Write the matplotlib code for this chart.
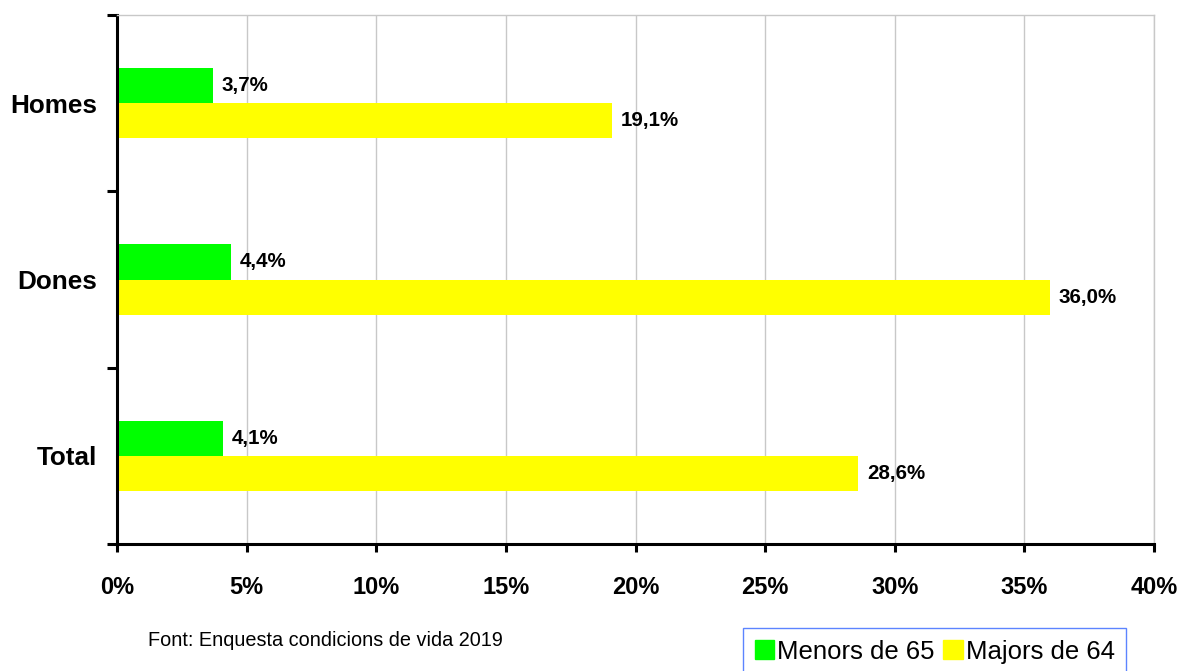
import matplotlib.pyplot as plt
from matplotlib.patches import Patch

plt.rcParams['font.family'] = ['Liberation Sans', 'DejaVu Sans']

categories = ['Total', 'Dones', 'Homes']
menors = [4.1, 4.4, 3.7]
majors = [28.6, 36.0, 19.1]
xticks = [0, 5, 10, 15, 20, 25, 30, 35, 40]

green = '#00ff00'
yellow = '#ffff00'

fig = plt.figure(figsize=(11.83, 6.71), dpi=100)
ax = fig.add_axes([0.0989, 0.1893, 0.8766, 0.7883])

centers = [i + 0.5 for i in range(len(categories))]
h = 0.2
ax.barh([c + h / 2 for c in centers], menors, height=h, color=green)
ax.barh([c - h / 2 for c in centers], majors, height=h, color=yellow)

for c, v in zip(centers, menors):
    ax.text(v + 0.33, c + h / 2, f'{v:.1f}%'.replace('.', ','), va='center', ha='left',
            fontsize=14.8, fontweight='bold')
for c, v in zip(centers, majors):
    ax.text(v + 0.33, c - h / 2, f'{v:.1f}%'.replace('.', ','), va='center', ha='left',
            fontsize=14.8, fontweight='bold')

ax.set_xlim(0, 40)
ax.set_ylim(0, 3)
ax.set_xticks(xticks)
ax.set_xticklabels([f'{t}%' for t in xticks], fontsize=17, fontweight='bold')
ax.tick_params(axis='x', direction='out', length=6, width=2.2, pad=17)

ax.set_yticks([0, 1, 2, 3])
ax.set_yticklabels([])
ax.set_yticks(centers, minor=True)
ax.set_yticklabels(categories, minor=True, fontsize=18.8, fontweight='bold')
ax.tick_params(axis='y', which='major', direction='out', length=7, width=2.2)
ax.tick_params(axis='y', which='minor', length=0, pad=14)

ax.grid(axis='x', color='#c8c8c8', linewidth=1)
ax.set_axisbelow(True)
for s in ['left', 'bottom']:
    ax.spines[s].set_linewidth(2.2)
for s in ['top', 'right']:
    ax.spines[s].set_color('#c8c8c8')
    ax.spines[s].set_linewidth(1)

fig.text(148 / 1183, 1 - 641 / 671, 'Font: Enquesta condicions de vida 2019',
         fontsize=14.3, va='center', ha='left')

handles = [Patch(color=green), Patch(color=yellow)]
leg = fig.legend(handles, ['Menors de 65', 'Majors de 64'], ncol=2,
                 loc='upper left', bbox_to_anchor=(743 / 1183, 1 - 628 / 671),
                 fontsize=18.5, frameon=True, fancybox=False, handlelength=0.75,
                 handleheight=0.75, handletextpad=0.12, columnspacing=0.35,
                 borderpad=0.45, borderaxespad=0)
leg.get_frame().set_edgecolor('#3366ff')
leg.get_frame().set_linewidth(1)

fig.savefig('out.png', dpi=100)
